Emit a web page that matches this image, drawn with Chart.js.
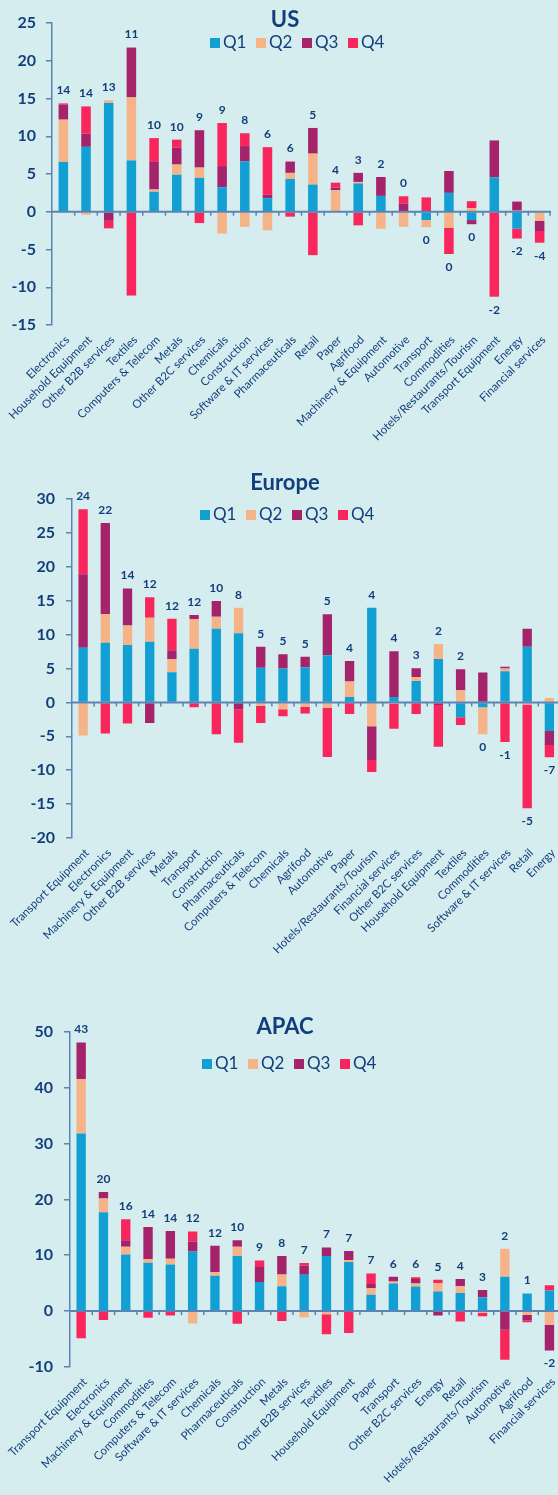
<!DOCTYPE html>
<html>
<head>
<meta charset="utf-8">
<script src="https://cdn.jsdelivr.net/npm/chart.js@4.4.1/dist/chart.umd.min.js"></script>
<style>
  html, body { margin: 0; padding: 0; background: #d6edef; width: 558px; height: 1495px; overflow: hidden; }
  .panel { position: absolute; left: 0; width: 558px; overflow: hidden; }
  .panel canvas { position: absolute; left: 0; top: 0; }
  .title { position: absolute; left: 0; width: 570px; text-align: center; font-family: Lato, sans-serif; font-weight: bold; font-size: 22px; color: #123e7c; z-index: 2; }
  .legend { position: absolute; font-family: Lato, sans-serif; font-size: 17px; color: #123e7c; z-index: 2; white-space: nowrap; }
  .legend span { display: inline-block; width: 46px; }
  .legend i { display: inline-block; width: 10px; height: 10px; margin-right: 3px; vertical-align: 0px; }
</style>
</head>
<body>

<div class="panel" style="top:0;height:450px">
  <div class="title" style="top:5px">US</div>
  <div class="legend" style="top:31px;left:210px">
    <span><i style="background:#12a0d4"></i>Q1</span><span><i style="background:#f6b387"></i>Q2</span><span><i style="background:#a4236b"></i>Q3</span><span><i style="background:#f8265c"></i>Q4</span>
  </div>
  <canvas id="usChart" width="562" height="450"></canvas>
</div>

<div class="panel" style="top:450px;height:510px">
  <div class="title" style="top:18px">Europe</div>
  <div class="legend" style="top:53px;left:200px">
    <span><i style="background:#12a0d4"></i>Q1</span><span><i style="background:#f6b387"></i>Q2</span><span><i style="background:#a4236b"></i>Q3</span><span><i style="background:#f8265c"></i>Q4</span>
  </div>
  <canvas id="euChart" width="562" height="510"></canvas>
</div>

<div class="panel" style="top:960px;height:535px">
  <div class="title" style="top:52px">APAC</div>
  <div class="legend" style="top:92px;left:202px">
    <span><i style="background:#12a0d4"></i>Q1</span><span><i style="background:#f6b387"></i>Q2</span><span><i style="background:#a4236b"></i>Q3</span><span><i style="background:#f8265c"></i>Q4</span>
  </div>
  <canvas id="apChart" width="562" height="535"></canvas>
</div>

<script>
// --- US ---
const usLabels = ['Electronics', 'Household Equipment', 'Other B2B services', 'Textiles', 'Computers & Telecom', 'Metals', 'Other B2C services', 'Chemicals', 'Construction', 'Software & IT services', 'Pharmaceuticals', 'Retail', 'Paper', 'Agrifood', 'Machinery & Equipment', 'Automotive', 'Transport', 'Commodities', 'Hotels/Restaurants/Tourism', 'Transport Equipment', 'Energy', 'Financial services'];
const usQ1 = [6.6, 8.6, 14.4, 6.8, 2.65, 4.9, 4.5, 3.25, 6.7, 1.8, 4.35, 3.6, 0.1, 3.75, 2.1, 0, -1.1, 2.5, -1.1, 4.55, -2.25, 0];
const usQ2 = [5.6, -0.4, 0.35, 8.35, 0.3, 1.35, 1.35, -2.9, -2.0, -2.45, 0.8, 4.1, 2.75, 0.2, -2.25, -2.0, -0.95, -2.15, 0.5, 0, 0.15, -1.2];
const usQ3 = [2.0, 1.75, -1.2, 6.6, 3.65, 2.25, 4.95, 2.8, 2.0, 0.45, 1.5, 3.4, 0.35, 1.2, 2.5, 1.1, 0, 2.9, -0.55, 4.9, 1.2, -1.35];
const usQ4 = [0.15, 3.6, -1.0, -11.1, 3.15, 1.05, -1.5, 5.7, 1.7, 6.3, -0.65, -5.75, 0.65, -1.8, 0, 0.95, 1.9, -3.45, 0.9, -11.25, -1.3, -1.55];
const usTotals = [14, 14, 13, 11, 10, 10, 9, 9, 8, 6, 6, 5, 4, 3, 2, 0, 0, 0, 0, -2, -2, -4];
const usTicks = [-15, -10, -5, 0, 5, 10, 15, 20, 25];

// --- Europe ---
const euLabels = ['Transport Equipment', 'Electronics', 'Machinery & Equipment', 'Other B2B services', 'Metals', 'Transport', 'Construction', 'Pharmaceuticals', 'Computers & Telecom', 'Chemicals', 'Agrifood', 'Automotive', 'Paper', 'Hotels/Restaurants/Tourism', 'Financial services', 'Other B2C services', 'Household Equipment', 'Textiles', 'Commodities', 'Software & IT services', 'Retail', 'Energy'];
const euQ1 = [8.05, 8.8, 8.45, 8.95, 4.45, 7.9, 10.85, 10.2, 5.1, 5.0, 5.2, 6.95, 0.8, 13.95, 0.8, 3.15, 6.4, -2.2, -0.7, 4.6, 8.2, -4.2];
const euQ2 = [-4.9, 4.25, 2.9, 3.55, 1.9, 4.4, 1.8, 3.75, -0.5, -1.0, -0.65, -0.8, 2.3, -3.5, -0.2, 0.6, 2.2, 1.8, -4.0, 0.4, -0.3, 0.65];
const euQ3 = [10.85, 13.4, 5.45, -3.05, 1.35, 0.6, 2.3, -1.0, 3.1, 2.1, 1.55, 6.05, 3.0, -5.0, 6.75, 1.3, -0.4, 3.1, 4.4, 0.25, 2.65, -2.1];
const euQ4 = [9.6, -4.6, -3.1, 3.0, 4.65, -0.7, -4.7, -4.95, -2.55, -1.05, -1.0, -7.25, -1.7, -1.75, -3.7, -1.7, -6.15, -1.15, 0, -5.85, -15.3, -1.8];
const euTotals = [24, 22, 14, 12, 12, 12, 10, 8, 5, 5, 5, 5, 4, 4, 4, 3, 2, 2, 0, -1, -5, -7];
const euTicks = [-20, -15, -10, -5, 0, 5, 10, 15, 20, 25, 30];

// --- APAC ---
const apLabels = ['Transport Equipment', 'Electronics', 'Machinery & Equipment', 'Commodities', 'Computers & Telecom', 'Software & IT services', 'Chemicals', 'Pharmaceuticals', 'Construction', 'Metals', 'Other B2B services', 'Textiles', 'Household Equipment', 'Paper', 'Transport', 'Other B2C services', 'Energy', 'Retail', 'Hotels/Restaurants/Tourism', 'Automotive', 'Agrifood', 'Financial services'];
const apQ1 = [31.8, 17.7, 10.15, 8.65, 8.35, 10.65, 6.35, 9.85, 5.2, 4.45, 6.5, 9.85, 8.8, 2.95, 4.95, 4.4, 3.5, 3.25, 2.5, 6.15, 3.15, 3.7];
const apQ2 = [9.7, 2.45, 1.35, 0.65, 1.0, -2.2, 0.65, 1.65, -0.15, 2.1, -1.15, -0.55, 0.35, 1.15, 0.35, 0.55, 1.55, 1.2, -0.3, 5.0, -0.7, -2.45];
const apQ3 = [6.55, 1.15, 1.2, 5.75, 5.0, 1.8, 4.7, 1.2, 2.7, 3.3, 1.6, 1.55, 1.6, 0.75, 0.85, 0.8, -0.8, 1.3, 1.3, -3.35, -0.95, -4.6];
const apQ4 = [-4.85, -1.6, 3.75, -1.2, -0.8, 1.8, 0, -2.25, 1.15, -1.75, 0.5, -3.6, -3.9, 1.9, 0, 0.3, 0.55, -1.85, -0.6, -5.35, -0.35, 0.95];
const apTotals = [43, 20, 16, 14, 14, 12, 12, 10, 9, 8, 7, 7, 7, 7, 6, 6, 5, 4, 3, 2, 1, -2];
const apTicks = [-10, 0, 10, 20, 30, 40, 50];

const TEXT = '#123e7c';
const AXIS = '#5b83b4';
const COLORS = ['#12a0d4', '#f6b387', '#a4236b', '#f8265c'];
const FONT = 'Lato, sans-serif';

// zero line with category ticks, plus the net total above/below each stack
const zeroAndTotals = {
    id: 'zeroAndTotals',
    afterDatasetsDraw(chart, args, opts) {
        const { ctx, chartArea } = chart;
        const x = chart.scales.x;
        const y = chart.scales.y;
        const y0 = y.getPixelForValue(0);
        const n = chart.data.labels.length;

        ctx.save();
        ctx.strokeStyle = AXIS;
        ctx.lineWidth = 2;
        ctx.beginPath();
        ctx.moveTo(chartArea.left, y0);
        ctx.lineTo(chartArea.right, y0);
        ctx.stroke();

        ctx.lineWidth = 1.5;
        for (let i = 1; i <= n; i++) {
            const xb = i < n ? (x.getPixelForValue(i - 1) + x.getPixelForValue(i)) / 2 : chartArea.right - 1;
            ctx.beginPath();
            ctx.moveTo(xb, y0);
            ctx.lineTo(xb, y0 + 4);
            ctx.stroke();
        }

        ctx.fillStyle = TEXT;
        ctx.font = 'bold 12px ' + FONT;
        ctx.textAlign = 'center';
        ctx.textBaseline = 'middle';
        for (let i = 0; i < n; i++) {
            let pos = 0, neg = 0;
            chart.data.datasets.forEach(ds => {
                const v = ds.data[i];
                if (v > 0) pos += v; else neg += v;
            });
            const yy = pos + neg >= 0 ? y.getPixelForValue(pos) - 13 : y.getPixelForValue(neg) + 13;
            ctx.fillText(String(opts.totals[i]), x.getPixelForValue(i), yy);
        }
        ctx.restore();
    }
};

function makeChart(id, labels, q1, q2, q3, q4, totals, ticks, layout) {
    const ctx = document.getElementById(id).getContext('2d');
    const series = [q1, q2, q3, q4];

    return new Chart(ctx, {
        type: 'bar',
        data: {
            labels: labels,
            datasets: series.map((d, i) => ({
                label: 'Q' + (i + 1),
                data: d,
                backgroundColor: COLORS[i],
                borderWidth: 0,
                categoryPercentage: 1,
                barPercentage: 0.42
            }))
        },
        options: {
            responsive: false,
            animation: false,
            layout: { padding: { top: layout.top, right: layout.right, left: 0, bottom: 0 } },
            plugins: {
                legend: { display: false },
                title: { display: false },
                tooltip: { enabled: false },
                zeroAndTotals: { totals: totals }
            },
            scales: {
                x: {
                    stacked: true,
                    grid: { display: false, drawTicks: false },
                    border: { display: false },
                    ticks: {
                        color: TEXT,
                        font: { family: FONT, size: 11.5 },
                        minRotation: 45,
                        maxRotation: 45,
                        autoSkip: false,
                        labelOffset: 4,
                        padding: 8
                    },
                    afterFit(scale) {
                        scale.height = layout.xHeight;
                        scale.paddingLeft = 0;
                        scale.paddingRight = 0;
                    }
                },
                y: {
                    stacked: true,
                    min: ticks[0],
                    max: ticks[ticks.length - 1],
                    afterBuildTicks(scale) {
                        scale.ticks = ticks.map(v => ({ value: v }));
                    },
                    grid: { drawOnChartArea: false, drawTicks: true, tickLength: 6, color: AXIS, lineWidth: 1.5 },
                    border: { display: true, color: AXIS, width: 1.5 },
                    ticks: {
                        color: TEXT,
                        font: { family: FONT, size: 16, weight: 'bold' },
                        padding: layout.tickPad
                    },
                    afterFit(scale) {
                        scale.width = layout.yWidth;
                    }
                }
            }
        },
        plugins: [zeroAndTotals]
    });
}

makeChart('usChart', usLabels, usQ1, usQ2, usQ3, usQ4, usTotals, usTicks,
    { top: 23, right: 11, xHeight: 125, yWidth: 52, tickPad: 10 });
makeChart('euChart', euLabels, euQ1, euQ2, euQ3, euQ4, euTotals, euTicks,
    { top: 49, right: 1.5, xHeight: 122, yWidth: 72, tickPad: 11 });
makeChart('apChart', apLabels, apQ1, apQ2, apQ3, apQ4, apTotals, apTicks,
    { top: 71.7, right: 1.4, xHeight: 128, yWidth: 70, tickPad: 11 });
</script>
</body>
</html>
